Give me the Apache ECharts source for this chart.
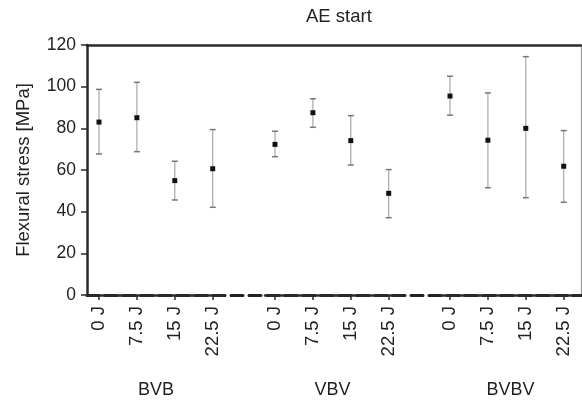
<!DOCTYPE html>
<html>
<head>
<meta charset="utf-8">
<script src="https://cdn.jsdelivr.net/npm/echarts@6/dist/echarts.min.js"></script>
<style>html,body{margin:0;padding:0;background:#fff}#c{width:582px;height:400px}</style>
</head>
<body>
<div id="c"></div>
<script>
// ---- data ----
const title = 'AE start';
const yName = 'Flexural stress [MPa]';
const groups = ['BVB', 'VBV', 'BVBV'];
const energies = ['0 J', '7.5 J', '15 J', '22.5 J'];
const yTicks = [0, 20, 40, 60, 80, 100, 120];

const bvbMean = [83.0, 85.1, 54.9, 60.6];
const bvbHigh = [98.7, 102.1, 64.2, 79.4];
const bvbLow  = [67.7, 68.8, 45.6, 42.1];

const vbvMean = [72.3, 87.5, 74.1, 48.8];
const vbvHigh = [78.6, 94.2, 86.1, 60.2];
const vbvLow  = [66.4, 80.5, 62.4, 37.1];

const bvbvMean = [95.5, 74.3, 80.0, 61.8];
const bvbvHigh = [105.0, 97.0, 114.4, 78.9];
const bvbvLow  = [86.3, 51.5, 46.7, 44.5];

const groupMeans = [bvbMean, vbvMean, bvbvMean];
const groupHighs = [bvbHigh, vbvHigh, bvbvHigh];
const groupLows  = [bvbLow, vbvLow, bvbvLow];

// ---- layout (pixels) ----
const W = 582, H = 400;
const TOP = 45, BOTTOM = 105, LEFT = 87, RIGHT = 1;
const STEP = 37.9; // px per category
const segs = [
  {l: 87,  r: 225, first: 99},
  {l: 265, r: 400, first: 275},
  {l: 440, r: 581, first: 450}
];
const FONT = 'Liberation Sans, Arial, Helvetica, sans-serif';
const DARK = '#2b2b2b';

const grids = [{left: LEFT, right: RIGHT, top: TOP, bottom: BOTTOM, outerBoundsMode: 'none', containLabel: false}];
const xAxes = [
  {gridIndex: 0, type: 'value', min: 0, max: 1, position: 'top',
   axisLine: {show: true, onZero: false, lineStyle: {color: DARK, width: 2.5}},
   axisTick: {show: false}, axisLabel: {show: false}, splitLine: {show: false}},
  {gridIndex: 0, type: 'value', min: 0, max: 1, position: 'bottom',
   axisLine: {show: true, onZero: false, lineStyle: {color: '#222', width: 3, type: 'dashed', dashOffset: 0}},
   axisTick: {show: false}, axisLabel: {show: false}, splitLine: {show: false}}
];
const yAxes = [
  {gridIndex: 0, type: 'value', min: 0, max: 120, interval: 20, position: 'left',
   name: yName, nameLocation: 'middle', nameGap: 54,
   nameTextStyle: {fontFamily: FONT, fontSize: 18.5, color: '#222'},
   axisLine: {show: true, onZero: false, lineStyle: {color: DARK, width: 2.5}},
   axisTick: {show: true, inside: false, length: 6, lineStyle: {color: DARK, width: 1.5}},
   axisLabel: {fontFamily: FONT, fontSize: 17.5, color: '#222', margin: 11},
   splitLine: {show: false}, z: 5},
  {gridIndex: 0, type: 'value', min: 0, max: 120, position: 'right',
   axisLine: {show: true, onZero: false, lineStyle: {color: '#999', width: 1.2}},
   axisTick: {show: false}, axisLabel: {show: false}, splitLine: {show: false}}
];
const series = [];

segs.forEach((s, g) => {
  grids.push({left: s.l, right: W - s.r, top: TOP, bottom: BOTTOM, outerBoundsMode: 'none', containLabel: false});
  const gi = g + 1;
  xAxes.push({
    gridIndex: gi, type: 'value',
    min: (s.l - s.first) / STEP, max: (s.r - s.first) / STEP,
    name: groups[g], nameLocation: 'middle', nameGap: 86,
    nameTextStyle: {fontFamily: FONT, fontSize: 18, color: '#222'},
    axisLine: {show: true, onZero: false, lineStyle: {color: DARK, width: 2.5}},
    axisTick: {show: true, length: 5, customValues: energies.map((e, i) => i),
               lineStyle: {color: DARK, width: 1.5}},
    axisLabel: {show: true, rotate: 90, margin: 11, customValues: energies.map((e, i) => i),
                formatter: v => energies[Math.round(v)],
                fontFamily: FONT, fontSize: 18.5, color: '#222'},
    splitLine: {show: false}, z: 5
  });
  yAxes.push({gridIndex: gi, type: 'value', min: 0, max: 120, show: false});
  const data = groupMeans[g].map((m, i) => [i, m, groupLows[g][i], groupHighs[g][i]]);
  series.push({
    type: 'custom', coordinateSystem: 'cartesian2d',
    xAxisIndex: xAxes.length - 1, yAxisIndex: yAxes.length - 1,
    data: data, encode: {x: 0, y: [1, 2, 3]}, z: 10,
    renderItem: (params, api) => {
      const x = api.value(0);
      const pm = api.coord([x, api.value(1)]);
      const pl = api.coord([x, api.value(2)]);
      const ph = api.coord([x, api.value(3)]);
      const cap = 3;
      return {type: 'group', children: [
        {type: 'line', shape: {x1: pm[0], y1: ph[1], x2: pm[0], y2: pl[1]},
         style: {stroke: '#a8a8a8', lineWidth: 1.2}},
        {type: 'line', shape: {x1: pm[0] - cap, y1: ph[1], x2: pm[0] + cap, y2: ph[1]},
         style: {stroke: '#777', lineWidth: 1.5}},
        {type: 'line', shape: {x1: pm[0] - cap, y1: pl[1], x2: pm[0] + cap, y2: pl[1]},
         style: {stroke: '#777', lineWidth: 1.5}},
        {type: 'rect', shape: {x: pm[0] - 2.5, y: pm[1] - 2.5, width: 5, height: 5},
         style: {fill: '#111'}}
      ]};
    }
  });
});

const chart = echarts.init(document.getElementById('c'), null, {renderer: 'canvas'});
chart.setOption({
  animation: false,
  backgroundColor: '#fff',
  title: {text: title, left: 301, top: 2,
          textStyle: {fontFamily: FONT, fontSize: 18.5, fontWeight: 'normal', color: '#222'}},
  grid: grids, xAxis: xAxes, yAxis: yAxes, series: series
});
</script>
</body>
</html>
